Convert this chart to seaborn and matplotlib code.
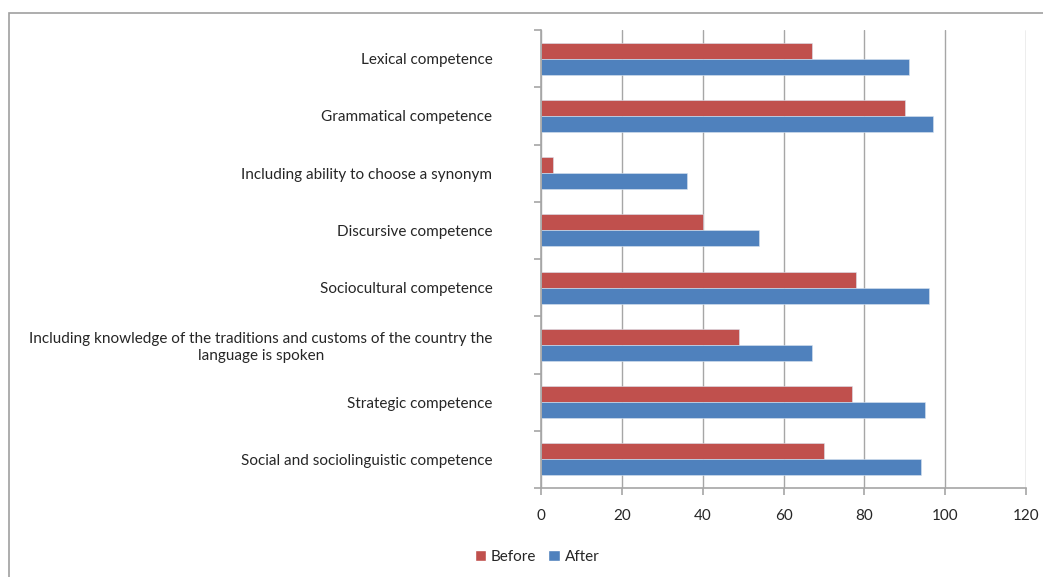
import matplotlib
matplotlib.use("Agg")
import matplotlib.pyplot as plt
import seaborn as sns
import pandas as pd
from matplotlib.patches import Rectangle

categories = [
    "Lexical competence",
    "Grammatical competence",
    "Including ability to choose a synonym",
    "Discursive competence",
    "Sociocultural competence",
    "Including knowledge of the traditions and customs of the country the\nlanguage is spoken",
    "Strategic competence",
    "Social and sociolinguistic competence",
]
before = [67, 90, 3, 40, 78, 49, 77, 70]
after = [91, 97, 36, 54, 96, 67, 95, 94]
series = ["Before", "After"]
x_ticks = [0, 20, 40, 60, 80, 100, 120]

df = pd.DataFrame({
    "category": categories * 2,
    "value": before + after,
    "series": ["Before"] * len(categories) + ["After"] * len(categories),
})

sns.set_style("white")
plt.rcParams["font.family"] = ["Lato", "DejaVu Sans"]

W, H = 1043, 577
fig = plt.figure(figsize=(W / 100, H / 100), dpi=100)
ax = fig.add_axes([541 / W, 1 - 488 / H, (1026 - 541) / W, (488 - 30) / H])

palette = {"Before": "#C0504D", "After": "#4F81BD"}
sns.barplot(data=df, x="value", y="category", hue="series", order=categories,
            hue_order=series, palette=palette, orient="h", width=0.56,
            gap=0, ax=ax, legend=False, saturation=1,
            edgecolor="#d9e4f0", linewidth=0.4)

ax.set_xlim(0, 120)
ax.set_xticks(x_ticks)
ax.set_xticklabels([str(t) for t in x_ticks])
ax.set_ylim(len(categories) - 0.5, -0.5)
ax.set_xlabel("")
ax.set_ylabel("")

grid_c = "#A6A6A6"
ax.grid(False)
ax.xaxis.grid(True, color=grid_c, linewidth=1.0)
ax.set_axisbelow(True)
for s in ["top", "right"]:
    ax.spines[s].set_visible(False)
for s in ["left", "bottom"]:
    ax.spines[s].set_color(grid_c)
    ax.spines[s].set_linewidth(1.2)

# category tick labels, boundary tick marks
ax.set_yticks(range(len(categories)))
ax.set_yticklabels(categories, fontsize=11, color="#262626", ha="right",
                   multialignment="center")
ax.tick_params(axis="y", which="major", length=0, pad=35)
ax.set_yticks([i - 0.5 for i in range(len(categories) + 1)], minor=True)
ax.tick_params(axis="y", which="minor", length=5, color=grid_c, width=1.2, left=True)
ax.tick_params(axis="x", which="major", length=5, color=grid_c, width=1.2,
               labelsize=11, labelcolor="#262626", pad=10, bottom=True)

# outer frame
fig.patches.append(Rectangle((9 / W, -0.05), 1.2, 1 - 13 / H + 0.05,
                             transform=fig.transFigure, fill=False,
                             edgecolor="#A0A0A0", linewidth=1.2))

handles = [Rectangle((0, 0), 1, 1, facecolor=palette[s]) for s in series]
fig.legend(handles, series, loc="center", bbox_to_anchor=(537 / W, 1 - 557 / H),
           ncol=2, frameon=False, fontsize=11, handlelength=0.75,
           handleheight=0.75, handletextpad=0.3, columnspacing=0.8,
           labelcolor="#262626")

fig.savefig("out.png", dpi=100)
